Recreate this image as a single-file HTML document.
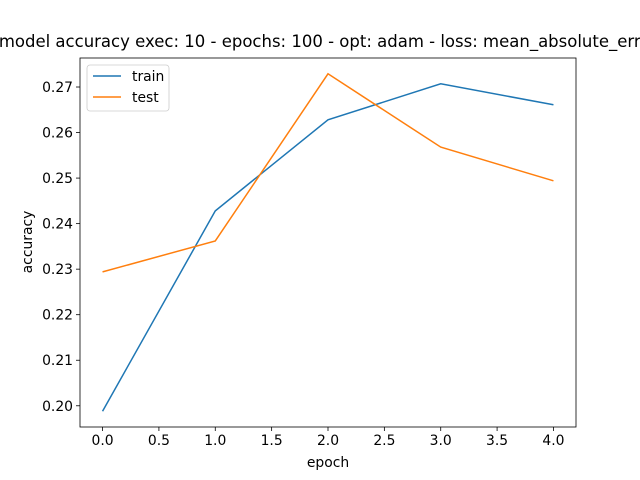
<!DOCTYPE html>
<html><head><meta charset="utf-8"><style>body{margin:0;background:#fff}svg{display:block;font-family:"DejaVu Sans","Liberation Sans",sans-serif}</style></head>
<body>
<svg id="c" width="640" height="480"></svg>
<script>
const epochs=[0,1,2,3,4];
const trainAcc=[0.1988,0.2428,0.2628,0.2707,0.2661];
const testAcc=[0.2294,0.2362,0.2729,0.2568,0.2494];
const xTicks=[0,0.5,1,1.5,2,2.5,3,3.5,4];
const xTickLabels=["0.0","0.5","1.0","1.5","2.0","2.5","3.0","3.5","4.0"];
const yTicks=[0.20,0.21,0.22,0.23,0.24,0.25,0.26,0.27];
const yTickLabels=["0.20","0.21","0.22","0.23","0.24","0.25","0.26","0.27"];
const L=80,R=576,T=58,B=427;
const xmin=-0.2,xmax=4.2,ymin=0.19534,ymax=0.27637;
const sx=v=>L+(v-xmin)/(xmax-xmin)*(R-L);
const sy=v=>B-(v-ymin)/(ymax-ymin)*(B-T);
const svg=document.getElementById('c');const NS='http://www.w3.org/2000/svg';
function mk(t,a,p){const e=document.createElementNS(NS,t);for(const k in a)e.setAttribute(k,a[k]);(p||svg).appendChild(e);return e;}
const title=mk('text',{x:328,y:47,'text-anchor':'middle','font-size':16.5});
title.textContent='model accuracy exec: 10 - epochs: 100 - opt: adam - loss: mean_absolute_error';


xTicks.forEach((v,i)=>{const x=sx(v);
const l=mk('line',{x1:x,x2:x,y1:B,y2:B+4,stroke:'#000','stroke-width':0.8});


const t=mk('text',{x:x,y:B+18,'text-anchor':'middle','font-size':13.9});t.textContent=xTickLabels[i];

});
yTicks.forEach((v,i)=>{const y=sy(v);
const l=mk('line',{x1:L-4,x2:L,y1:y,y2:y,stroke:'#000','stroke-width':0.8});


const t=mk('text',{x:L-7,y:y+5,'text-anchor':'end','font-size':13.9});t.textContent=yTickLabels[i];

});
const xl=mk('text',{x:328,y:467,'text-anchor':'middle','font-size':13.9});xl.textContent='epoch';


const yl=mk('text',{x:0,y:0,'text-anchor':'middle','font-size':13.9,transform:'translate(32,242) rotate(-90)'});yl.textContent='accuracy';


function line(vals,color,name){const p=mk('polyline',{points:epochs.map((e,i)=>sx(e)+','+sy(vals[i])).join(' '),fill:'none',stroke:color,'stroke-width':1.5});

}
line(trainAcc,'#1f77b4','train-line');
line(testAcc,'#ff7f0e','test-line');
const fr=mk('rect',{x:L,y:T,width:R-L,height:B-T,fill:'none',stroke:'#000','stroke-width':0.8});


const g=mk('g',{});


mk('rect',{x:87,y:65,width:82,height:46,rx:3,fill:'#fff',stroke:'#ccc','stroke-width':0.8},g);
[['train','#1f77b4',76],['test','#ff7f0e',97]].forEach(([n,c,y])=>{
mk('line',{x1:93,x2:121,y1:y,y2:y,stroke:c,'stroke-width':1.5},g);
const t=mk('text',{x:132,y:y+5,'font-size':13.9},g);t.textContent=n;

});
</script>
</body></html>
